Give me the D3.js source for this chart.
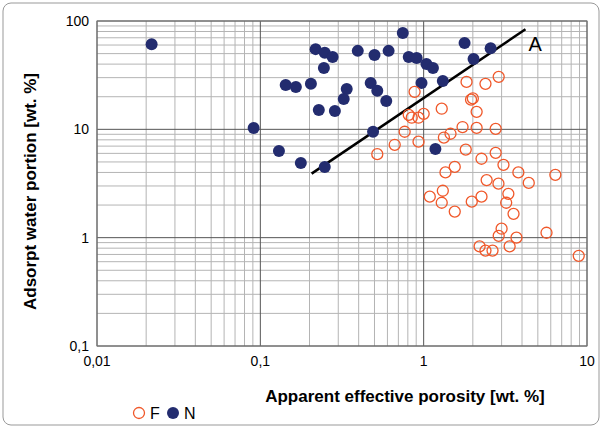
<!DOCTYPE html>
<html lang="en">
<head>
<meta charset="UTF-8" />
<title>Adsorpt water vs porosity</title>
<style>
  body { margin: 0; background: #fff; }
  svg { font-family: "Liberation Sans", Arial, sans-serif; }
  .minor { stroke: #b4b4b4; stroke-width: 1; }
  .major { stroke: #555; stroke-width: 1; }
  .tick-label { font-size: 14px; fill: #000; }
  .title { font-size: 17px; font-weight: bold; }
</style>
</head>
<body>
<div class="container"></div>
<script src="https://d3js.org/d3.v7.min.js"></script>
<script>
  // N samples [porosity, adsorpt water]
  const nData = [
    [0.0216, 61], [0.091, 10.3], [0.13, 6.3], [0.177, 4.9], [0.248, 4.5],
    [0.218, 55], [0.248, 51], [0.277, 46.6], [0.245, 36.9], [0.143, 25.7],
    [0.165, 24.6], [0.204, 26.3], [0.338, 23.6], [0.324, 19.1], [0.228, 15.1],
    [0.286, 14.8], [0.395, 53], [0.50, 48.6], [0.61, 53], [0.745, 77.6],
    [0.81, 46.6], [0.906, 45.6], [1.04, 40], [1.14, 36.9], [1.78, 62.7],
    [2.57, 56], [2.02, 44.7], [1.31, 28], [0.97, 26.8], [0.474, 26.8],
    [0.52, 22.7], [0.59, 18.3], [0.49, 9.5], [1.18, 6.6]
  ];
  // F samples
  const fData = [
    [1.83, 27.4], [2.39, 26.3], [2.88, 30.5], [0.88, 22.2], [1.95, 18.8],
    [2.0, 19.3], [1.29, 15.5], [2.11, 14.5], [1.0, 13.9], [0.81, 13.6],
    [0.845, 12.8], [0.93, 12.8], [0.765, 9.5], [1.33, 8.4], [1.46, 9.1],
    [1.73, 10.5], [2.11, 10.3], [2.76, 10.1], [0.665, 7.2], [0.93, 7.7],
    [0.52, 5.9], [1.81, 6.5], [2.26, 5.35], [2.76, 6.07], [3.08, 4.7],
    [1.55, 4.5], [1.36, 4.0], [3.8, 4.0], [6.4, 3.8], [2.43, 3.4],
    [2.87, 3.15], [4.4, 3.2], [1.09, 2.39], [1.31, 2.71], [1.29, 2.1],
    [1.55, 1.74], [1.97, 2.15], [2.26, 2.39], [3.3, 2.54], [3.2, 2.1],
    [3.55, 1.66], [3.0, 1.21], [2.88, 1.04], [3.7, 1.0], [5.65, 1.11],
    [3.36, 0.83], [2.2, 0.83], [2.39, 0.76], [2.64, 0.76], [8.9, 0.68]
  ];
  const lineA = [[0.206, 3.9], [4.2, 84]];
  const xTicks = [0.01, 0.1, 1, 10];
  const xTickLabels = ["0,01", "0,1", "1", "10"];
  const yTicks = [0.1, 1, 10, 100];
  const yTickLabels = ["0,1", "1", "10", "100"];

  const w = 602, h = 428;
  const m = { left: 97, right: 15, top: 21, bottom: 82 };

  const svg = d3.select(".container").append("svg")
    .attr("width", w).attr("height", h);

  svg.append("rect")
    .attr("x", 3).attr("y", 3).attr("width", w - 6).attr("height", h - 6)
    .attr("rx", 8).attr("fill", "#fff").attr("stroke", "#999");

  const xScale = d3.scaleLog().domain([0.01, 10]).range([m.left, w - m.right]);
  const yScale = d3.scaleLog().domain([0.1, 100]).range([h - m.bottom, m.top]);

  const minorX = [], minorY = [];
  [0.01, 0.1, 1].forEach(d => { for (let k = 2; k <= 9; k++) minorX.push(d * k); });
  [0.1, 1, 10].forEach(d => { for (let k = 2; k <= 9; k++) minorY.push(d * k); });

  const grid = svg.append("g");
  grid.selectAll(".mx").data(minorX).enter().append("line").attr("class", "minor")
    .attr("x1", d => xScale(d)).attr("x2", d => xScale(d))
    .attr("y1", yScale(0.1)).attr("y2", yScale(100));
  grid.selectAll(".my").data(minorY).enter().append("line").attr("class", "minor")
    .attr("y1", d => yScale(d)).attr("y2", d => yScale(d))
    .attr("x1", xScale(0.01)).attr("x2", xScale(10));
  grid.selectAll(".Mx").data(xTicks).enter().append("line").attr("class", "major")
    .attr("x1", d => xScale(d)).attr("x2", d => xScale(d))
    .attr("y1", yScale(0.1)).attr("y2", yScale(100));
  grid.selectAll(".My").data(yTicks).enter().append("line").attr("class", "major")
    .attr("y1", d => yScale(d)).attr("y2", d => yScale(d))
    .attr("x1", xScale(0.01)).attr("x2", xScale(10));

  svg.append("rect")
    .attr("x", m.left).attr("y", m.top)
    .attr("width", xScale(10) - m.left).attr("height", yScale(0.1) - m.top)
    .attr("fill", "none").attr("stroke", "#777");

  svg.selectAll(".xl").data(xTicks).enter().append("text").attr("class", "tick-label")
    .attr("x", d => xScale(d)).attr("y", yScale(0.1) + 20)
    .attr("text-anchor", "middle").text((d, i) => xTickLabels[i]);
  svg.selectAll(".yl").data(yTicks).enter().append("text").attr("class", "tick-label")
    .attr("x", m.left - 8).attr("y", d => yScale(d) + 5)
    .attr("text-anchor", "end").text((d, i) => yTickLabels[i]);

  svg.append("path")
    .attr("d", d3.line().x(d => xScale(d[0])).y(d => yScale(d[1]))(lineA))
    .attr("stroke", "#000").attr("stroke-width", 2.5).attr("fill", "none");
  svg.append("text").attr("x", xScale(lineA[1][0]) + 3).attr("y", yScale(lineA[1][1]) + 22)
    .attr("font-size", 20).text("A");

  svg.append("g").selectAll("circle").data(nData).enter().append("circle")
    .attr("cx", d => xScale(d[0])).attr("cy", d => yScale(d[1]))
    .attr("r", 6).attr("fill", "#232c6f");
  svg.append("g").selectAll("circle").data(fData).enter().append("circle")
    .attr("cx", d => xScale(d[0])).attr("cy", d => yScale(d[1]))
    .attr("r", 5.5).attr("fill", "none").attr("stroke", "#f0582a").attr("stroke-width", 1.3);

  svg.append("text").attr("class", "title")
    .attr("x", 405).attr("y", 402)
    .attr("text-anchor", "middle").text("Apparent effective porosity [wt. %]");
  svg.append("text").attr("class", "title")
    .attr("transform", `translate(36,${(m.top + yScale(0.1)) / 2 + 8}) rotate(-90)`)
    .attr("text-anchor", "middle").text("Adsorpt water portion [wt. %]");

  const lg = svg.append("g").attr("transform", "translate(139,413)");
  lg.append("circle").attr("cx", 0).attr("cy", 0).attr("r", 5.5)
    .attr("fill", "none").attr("stroke", "#f0582a").attr("stroke-width", 1.3);
  lg.append("text").attr("x", 11).attr("y", 6).attr("font-size", 16).text("F");
  lg.append("circle").attr("cx", 34).attr("cy", 0).attr("r", 6).attr("fill", "#232c6f");
  lg.append("text").attr("x", 45).attr("y", 6).attr("font-size", 16).text("N");
</script>
</body>
</html>
